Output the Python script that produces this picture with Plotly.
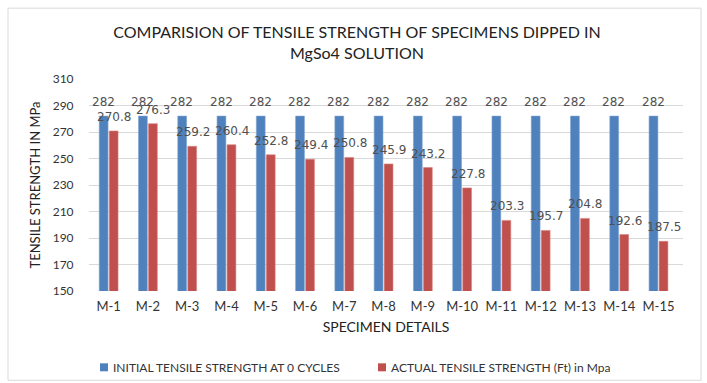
import plotly.graph_objects as go

specimens = ["M-1", "M-2", "M-3", "M-4", "M-5", "M-6", "M-7", "M-8",
             "M-9", "M-10", "M-11", "M-12", "M-13", "M-14", "M-15"]
initial_strength = [282] * 15
actual_strength = [270.8, 276.3, 259.2, 260.4, 252.8, 249.4, 250.8, 245.9,
                   243.2, 227.8, 203.3, 195.7, 204.8, 192.6, 187.5]
y_ticks = [150, 170, 190, 210, 230, 250, 270, 290, 310]
series_names = ["INITIAL TENSILE STRENGTH AT 0 CYCLES", "ACTUAL TENSILE STRENGTH (Ft) in Mpa"]

BLUE = "#4F81BD"
RED = "#C0504D"
TXT = "#404040"
BODY_FONT = "Lato"

W, H = 707, 383
L, R, T, B = 89, 24, 79, 91.5
pw, ph = W - L - R, H - T - B


def px_x(x):
    return (x - L) / pw


def px_y(y):
    return (H - B - y) / ph


fig = go.Figure()
fig.add_trace(go.Bar(name=series_names[0], x=specimens, y=initial_strength,
                     marker=dict(color=BLUE, line=dict(color="#7FA3D3", width=0.6))))
fig.add_trace(go.Bar(name=series_names[1], x=specimens, y=actual_strength,
                     marker=dict(color=RED, line=dict(color="#D88482", width=0.6))))

# value labels above each bar
annotations = []
for series, shift in ((initial_strength, -5.3), (actual_strength, 5.5)):
    for cat, val in zip(specimens, series):
        annotations.append(dict(x=cat, y=val, xref="x", yref="y", text=f"{val:g}",
                                showarrow=False, xshift=shift, yshift=14,
                                font=dict(family="DejaVu Sans", size=12, color="#505050")))

# legend drawn as swatch + label pairs below the axis title
shapes = [dict(type="rect", xref="paper", yref="paper",
               x0=px_x(8), x1=px_x(701), y0=px_y(381), y1=px_y(8),
               line=dict(color="#D9D9D9", width=1), layer="below")]
for name, color, sx in ((series_names[0], BLUE, 100), (series_names[1], RED, 378)):
    shapes.append(dict(type="rect", xref="paper", yref="paper",
                       x0=px_x(sx), x1=px_x(sx + 8), y0=px_y(372), y1=px_y(364),
                       fillcolor=color, line=dict(width=0)))
    annotations.append(dict(x=px_x(sx + 11), y=px_y(368), xref="paper", yref="paper",
                            xanchor="left", yanchor="middle", showarrow=False, text=name,
                            font=dict(family=BODY_FONT, size=12, color="#333333")))

fig.update_layout(
    width=W, height=H,
    margin=dict(l=L, r=R, t=T, b=B, autoexpand=False),
    paper_bgcolor="white", plot_bgcolor="white",
    barmode="group", bargap=0.49, bargroupgap=0.12,
    showlegend=False,
    title=dict(text="COMPARISION OF TENSILE STRENGTH OF SPECIMENS DIPPED IN<br>MgSo4 SOLUTION",
               x=357 / W, xanchor="center", y=1 - 38 / H, yanchor="middle",
               font=dict(family=BODY_FONT, size=16, color="#222222")),
    font=dict(family=BODY_FONT, color=TXT),
    xaxis=dict(title=dict(text="SPECIMEN DETAILS", font=dict(size=14, color="#222222"), standoff=9),
               tickfont=dict(size=13, color="#333333"), showline=False,
               ticks="outside", ticklen=3, tickcolor="rgba(0,0,0,0)"),
    yaxis=dict(title=dict(text="TENSILE STRENGTH IN MPa", font=dict(size=13, color="#222222"), standoff=9),
               range=[150, 310], tickvals=y_ticks, tickfont=dict(size=12, color="#333333"),
               gridcolor="#D9D9D9", gridwidth=1, zeroline=False, showline=False,
               ticks="outside", ticklen=12, tickcolor="rgba(0,0,0,0)"),
    annotations=annotations,
    shapes=shapes,
)

fig.write_html("out.html")
